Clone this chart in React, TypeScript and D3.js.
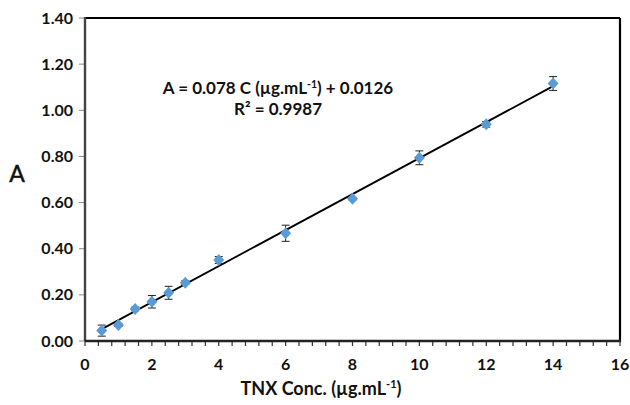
import React from "react";
import * as d3 from "d3";

const concentrations = [0.5, 1, 1.5, 2, 2.5, 3, 4, 6, 8, 10, 12, 14];
const absorbances = [0.045, 0.069, 0.139, 0.170, 0.209, 0.253, 0.351, 0.467, 0.617, 0.794, 0.939, 1.116];
const errors = [0.024, 0.006, 0.008, 0.027, 0.028, 0.008, 0.015, 0.035, 0.006, 0.030, 0.012, 0.030];
const xTicks = [0, 2, 4, 6, 8, 10, 12, 14, 16];
const yTicks = [0, 0.2, 0.4, 0.6, 0.8, 1.0, 1.2, 1.4];
const slope = 0.078;
const intercept = 0.0126;

const W = 630;
const H = 405;
const FONT = "Lato, 'Open Sans', sans-serif";

export default function App() {
  const left = 85, right = 620, top = 18, bottom = 341;
  const x = d3.scaleLinear().domain([0, 16]).range([left, right]);
  const y = d3.scaleLinear().domain([0, 1.4]).range([bottom, top]);
  const minor = d3.range(0, 16.001, 0.4);
  const trend = d3.line<number>().x((d) => x(d)).y((d) => y(slope * d + intercept));
  const diamond = "M0,-6L5.5,0L0,6L-5.5,0Z";

  return (
    <svg width={W} height={H} style={{ position: "absolute", left: 0, top: 0, background: "#fff" }}>
      <rect x={0} y={0} width={W} height={H} fill="#fff" />
      {/* frame */}
      <line x1={left} x2={right} y1={top} y2={top} stroke="#000" strokeWidth={2.2} />
      <line x1={right} x2={right} y1={top} y2={bottom} stroke="#000" strokeWidth={2.2} />
      {/* y ticks */}
      {yTicks.map((t) => (
        <g key={"y" + t}>
          <line x1={left - 6} x2={left} y1={y(t)} y2={y(t)} stroke="#888" strokeWidth={1} />
          <text x={73} y={y(t) + 5.5} textAnchor="end" fontFamily={FONT} fontWeight="bold" fontSize={16} fill="#111">
            {t.toFixed(2)}
          </text>
        </g>
      ))}
      {/* x minor ticks */}
      {minor.map((t, i) => (
        <line key={"m" + i} x1={x(t)} x2={x(t)} y1={bottom} y2={bottom + 5} stroke="#333" strokeWidth={1.2} />
      ))}
      {xTicks.map((t) => (
        <text key={"x" + t} x={x(t)} y={370} textAnchor="middle" fontFamily={FONT} fontWeight="bold" fontSize={16} fill="#111">
          {t}
        </text>
      ))}
      {/* axes */}
      <line x1={left} x2={left} y1={top - 1} y2={bottom} stroke="#444" strokeWidth={2.4} />
      <line x1={left} x2={right + 1} y1={bottom} y2={bottom} stroke="#222" strokeWidth={2.4} />
      {/* trend line */}
      <path d={trend([concentrations[0], concentrations[concentrations.length - 1]]) || ""} stroke="#000" strokeWidth={1.8} fill="none" />
      {/* error bars */}
      {concentrations.map((c, i) => {
        const cx = x(c);
        const y1 = y(absorbances[i] + errors[i]);
        const y2 = y(absorbances[i] - errors[i]);
        return (
          <g key={"e" + i} stroke="#222" strokeWidth={1}>
            <line x1={cx} x2={cx} y1={y1} y2={y2} />
            <line x1={cx - 4} x2={cx + 4} y1={y1} y2={y1} />
            <line x1={cx - 4} x2={cx + 4} y1={y2} y2={y2} />
          </g>
        );
      })}
      {/* markers */}
      {concentrations.map((c, i) => (
        <path key={"p" + i} d={diamond} transform={`translate(${x(c)},${y(absorbances[i])})`} fill="#5B9BD5" />
      ))}
      {/* equation */}
      <text x={278} y={94} textAnchor="middle" fontFamily={FONT} fontWeight="bold" fontSize={17} fill="#111">
        A = 0.078 C (µg.mL<tspan fontSize={10.5} dy={-6}>-1</tspan><tspan dy={6}>) + 0.0126</tspan>
      </text>
      <text x={278} y={115} textAnchor="middle" fontFamily={FONT} fontWeight="bold" fontSize={17} fill="#111">
        R² = 0.9987
      </text>
      {/* axis titles */}
      <text x={17} y={182} textAnchor="middle" fontFamily={FONT} fontSize={23} fill="#111" stroke="#111" strokeWidth={0.5}>A</text>
      <text x={321} y={395} textAnchor="middle" fontFamily={FONT} fontWeight="bold" fontSize={18} fill="#111">
        TNX Conc. (µg.mL<tspan fontSize={11} dy={-7}>-1</tspan><tspan dy={7}>)</tspan>
      </text>
    </svg>
  );
}
